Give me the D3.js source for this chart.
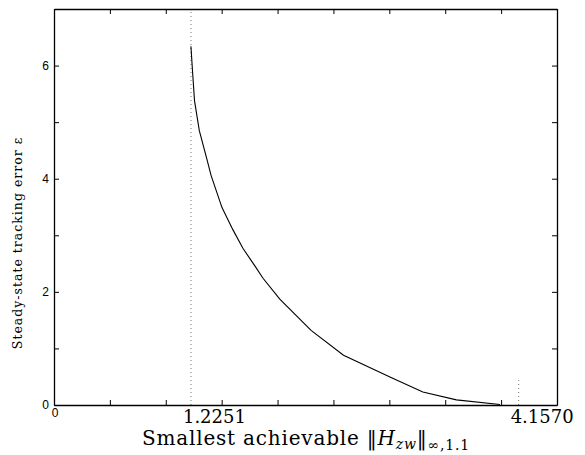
<!DOCTYPE html>
<html>
<head>
<meta charset="utf-8">
<script src="https://cdn.jsdelivr.net/npm/d3@7"></script>
<style>
  body { margin: 0; background: #fff; }
  svg { display: block; }
</style>
</head>
<body>
<div id="chart"></div>
<script>
// curve
var hinf = [1.2251, 1.239, 1.257, 1.300, 1.366, 1.405, 1.503, 1.60, 1.69, 1.80, 1.87, 2.02, 2.30, 2.59, 3.02, 3.30, 3.60, 3.99];
var errs = [6.34, 5.91, 5.38, 4.85, 4.36, 4.06, 3.49, 3.10, 2.77, 2.45, 2.24, 1.87, 1.32, 0.88, 0.48, 0.23, 0.09, 0.01];
var xTicks = [0, 0.5, 1, 1.5, 2, 2.5, 3, 3.5, 4, 4.5];
var yTicks = [0, 1, 2, 3, 4, 5, 6, 7];
var yLabels = [0, 2, 4, 6];
var markers = [1.2251, 4.1570];
var markerLabels = ["1.2251", "4.1570"];
var markerTop = [7, 0.45];

var w = 585, h = 455;
var margin = {top: 9, right: 28, bottom: 50, left: 54};

var svg = d3.select("#chart").append("svg")
    .attr("width", w)
    .attr("height", h);

var x = d3.scaleLinear()
    .domain([0, 4.5])
    .range([margin.left, w - margin.right]);
var y = d3.scaleLinear()
    .domain([0, 7])
    .range([h - margin.bottom, margin.top]);

// dotted markers
markers.forEach(function (m, i) {
    svg.append("line")
        .attr("x1", x(m)).attr("x2", x(m))
        .attr("y1", y(0)).attr("y2", y(markerTop[i]))
        .style("stroke", "#777")
        .style("stroke-width", 1)
        .style("stroke-dasharray", "1,3");
});

// the curve
var line = d3.line()
    .x(function (d, i) { return x(hinf[i]); })
    .y(function (d) { return y(d); });
svg.append("path")
    .datum(errs)
    .attr("d", line)
    .style("fill", "none")
    .style("stroke", "#000")
    .style("stroke-width", 1.1);

// axes, ticks pointing inward, box on
var tl = 5;
svg.append("g")
    .attr("transform", "translate(0," + y(0) + ")")
    .call(d3.axisBottom(x).tickValues(xTicks).tickSizeInner(-tl).tickSizeOuter(0).tickFormat(""));
svg.append("g")
    .attr("transform", "translate(0," + y(7) + ")")
    .call(d3.axisTop(x).tickValues(xTicks).tickSizeInner(-tl).tickSizeOuter(0).tickFormat(""));
svg.append("g")
    .attr("transform", "translate(" + x(0) + ",0)")
    .call(d3.axisLeft(y).tickValues(yTicks).tickSizeInner(-tl).tickSizeOuter(0).tickFormat(""));
svg.append("g")
    .attr("transform", "translate(" + x(4.5) + ",0)")
    .call(d3.axisRight(y).tickValues(yTicks).tickSizeInner(-tl).tickSizeOuter(0).tickFormat(""));
svg.selectAll(".domain").style("stroke", "#000").style("stroke-width", 1.3);
svg.selectAll(".tick line").style("stroke", "#000");

// y tick labels
svg.selectAll(".ylab")
    .data(yLabels)
    .enter().append("text")
    .attr("x", x(0) - 5)
    .attr("y", function (d) { return y(d) + 4; })
    .attr("text-anchor", "end")
    .style("font-family", "Liberation Sans, Arial, sans-serif")
    .style("font-size", "12px")
    .text(function (d) { return d; });

// x "0"
svg.append("text")
    .attr("x", x(0) + 1)
    .attr("y", y(0) + 12)
    .attr("text-anchor", "middle")
    .style("font-family", "Liberation Sans, Arial, sans-serif")
    .style("font-size", "12px")
    .text("0");

// marker labels
markers.forEach(function (m, i) {
    svg.append("text")
        .attr("x", x(m) - 8)
        .attr("y", y(0) + 18)
        .style("font-family", "DejaVu Serif, serif")
        .style("font-size", "18px")
        .style("font-weight", "300")
        .text(markerLabels[i]);
});

// x axis label
var xl = svg.append("text")
    .attr("x", 306)
    .attr("y", 445)
    .attr("text-anchor", "middle")
    .style("font-family", "DejaVu Serif, serif")
    .style("font-size", "20px")
    .style("letter-spacing", "0.8px");
xl.append("tspan").text("Smallest achievable \u2016");
xl.append("tspan").style("font-style", "italic").text("H");
xl.append("tspan").attr("dy", 4).style("font-size", "14px").style("font-style", "italic").text("zw");
xl.append("tspan").attr("dy", -4).text("\u2016");
xl.append("tspan").attr("dy", 5).style("font-size", "14px").text("\u221E,1.1");

// y axis label
svg.append("text")
    .attr("transform", "translate(22," + 243 + ") rotate(-90)")
    .attr("text-anchor", "middle")
    .style("font-family", "DejaVu Serif, serif")
    .style("font-size", "12.5px")
    .style("letter-spacing", "1px")
    .text("Steady-state tracking error \u03B5");
</script>
</body>
</html>
